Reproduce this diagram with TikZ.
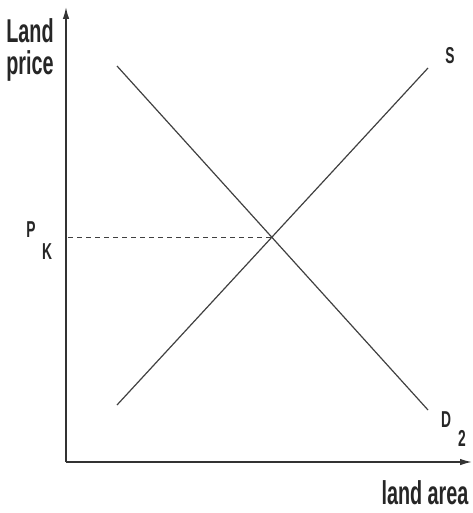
\documentclass[tikz,border=0pt]{standalone}
\usepackage{fontspec}
\newfontfamily\labelfont{Liberation Sans}[FakeStretch=0.6]
\usetikzlibrary{arrows.meta,positioning,calc}

\begin{document}
\begin{tikzpicture}[
  x=1pt,y=-1pt,
  axis/.style={line width=1.4pt,black!80,-{Latex[length=12pt,width=6.5pt]}},
  curve/.style={line width=1.2pt,black!75},
  guide/.style={line width=0.9pt,black!75,dash pattern=on 5pt off 4pt},
  biglabel/.style={font=\labelfont\bfseries\fontsize{33}{36}\selectfont,inner sep=0pt,align=center,text=black!85},
  smalllabel/.style={font=\labelfont\bfseries\fontsize{23}{25}\selectfont,inner sep=0pt,text=black!85}
]
\useasboundingbox (0,0) rectangle (472,513);
% axes
\coordinate (o) at (66,462);
\coordinate (ytop) at (66,7);
\coordinate (xend) at (472,462);
\draw[axis] (o) -- (ytop);
\draw[axis] (o) -- (xend);
% supply and demand
\coordinate (d1) at (117,66);
\coordinate (d2) at (428,410);
\coordinate (s1) at (117,405);
\coordinate (s2) at (428,68);
\draw[curve] (d1) -- (d2);
\draw[curve] (s1) -- (s2);
\coordinate (eq) at (272,237);
\coordinate (pk) at (68,237);
\draw[guide] (pk) -- (eq);
% labels
\node[biglabel] (ylab) at (30,50) {Land\\[-4pt]price};
\node[biglabel,anchor=base] (xlab) at (425,504) {land area};
\node[smalllabel,anchor=base] (slab) at (450,64) {S};
\node[smalllabel,anchor=base] (dlab) at (446,427) {D};
\node[smalllabel,anchor=base] (dsub) at (462,446) {2};
\node[smalllabel,anchor=base] (plab) at (31,237) {P};
\node[smalllabel,anchor=base] (ksub) at (47,259) {K};
\end{tikzpicture}
\end{document}
